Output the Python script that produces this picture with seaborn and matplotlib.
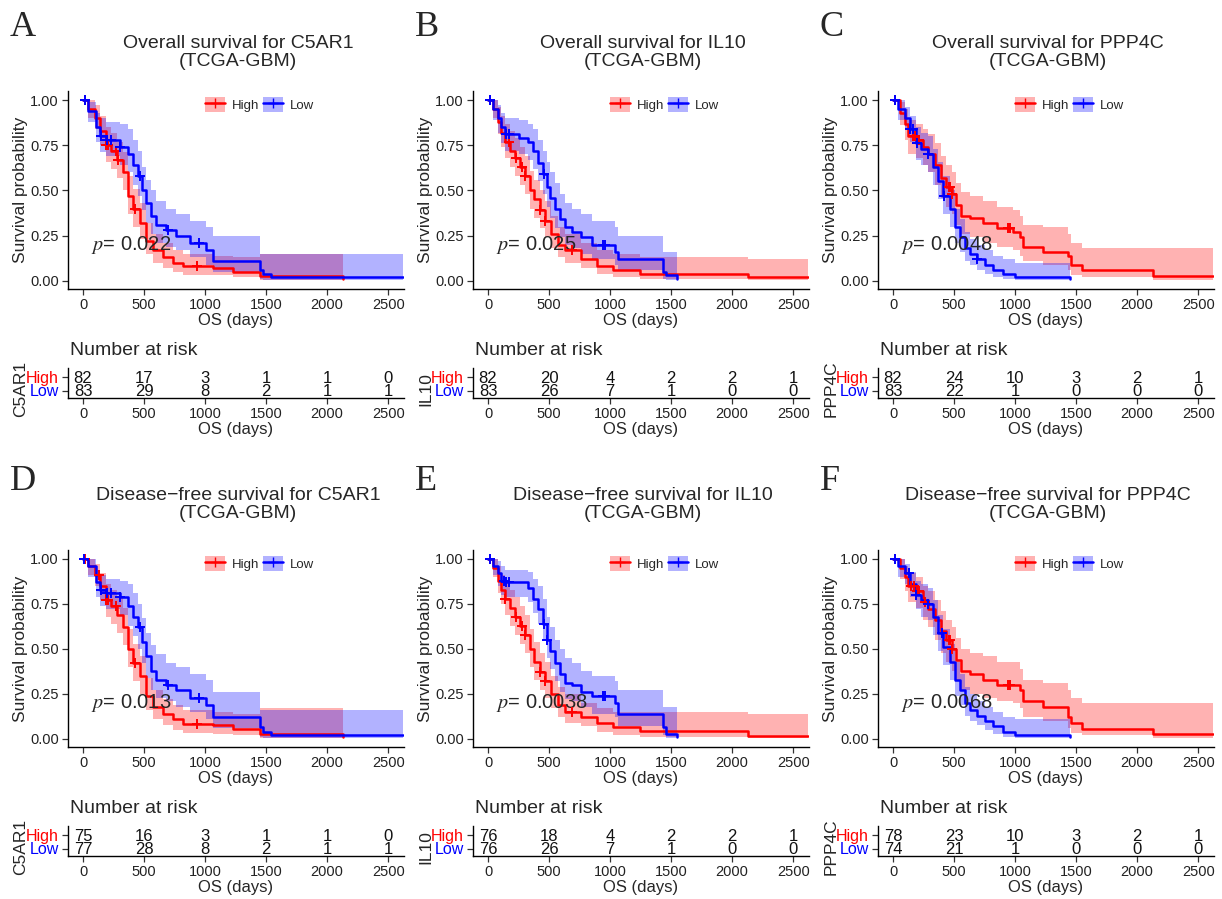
import numpy as np
import matplotlib
matplotlib.use("Agg")
import matplotlib.pyplot as plt
import seaborn as sns
from matplotlib.patches import Patch
from matplotlib.lines import Line2D

# ---------------- data ----------------
genes = ["C5AR1", "IL10", "PPP4C", "C5AR1", "IL10", "PPP4C"]
letters = ["A", "B", "C", "D", "E", "F"]
kinds = ["Overall", "Overall", "Overall", "Disease\u2212free", "Disease\u2212free", "Disease\u2212free"]
pvals = ["0.022", "0.025", "0.0048", "0.013", "0.0038", "0.0068"]
risk_times = [0, 500, 1000, 1500, 2000, 2500]
x_ticks = [0, 500, 1000, 1500, 2000, 2500]
y_ticks = [0.00, 0.25, 0.50, 0.75, 1.00]

# Panel A - C5AR1 OS
A_high_t = [0, 40, 95, 140, 190, 230, 275, 330, 370, 410, 465, 520, 575, 655, 740, 820, 1065, 1230, 1450, 2130]
A_high_s = [1.0, 0.95, 0.90, 0.83, 0.75, 0.72, 0.67, 0.60, 0.47, 0.40, 0.32, 0.22, 0.17, 0.13, 0.10, 0.08, 0.07, 0.05, 0.025, 0.01]
A_high_hi = [1.0, 1.0, 0.97, 0.91, 0.85, 0.82, 0.77, 0.71, 0.58, 0.51, 0.43, 0.32, 0.26, 0.21, 0.17, 0.15, 0.14, 0.13, 0.15, 0.15]
A_high_lo = [1.0, 0.90, 0.84, 0.75, 0.66, 0.62, 0.57, 0.50, 0.37, 0.30, 0.23, 0.15, 0.10, 0.07, 0.05, 0.03, 0.03, 0.02, 0.005, 0.0]
A_high_cens = [15, 190, 205, 270, 285, 430, 930]
A_low_t = [0, 40, 110, 137, 190, 300, 370, 410, 450, 480, 520, 560, 600, 680, 765, 875, 1010, 1065, 1450, 1475, 1540, 2624]
A_low_s = [1.0, 0.94, 0.85, 0.80, 0.78, 0.74, 0.70, 0.64, 0.58, 0.50, 0.43, 0.36, 0.31, 0.28, 0.25, 0.21, 0.17, 0.11, 0.06, 0.04, 0.02, 0.02]
A_low_hi = [1.0, 0.99, 0.93, 0.90, 0.88, 0.87, 0.84, 0.78, 0.72, 0.63, 0.56, 0.50, 0.44, 0.40, 0.37, 0.33, 0.30, 0.25, 0.15, 0.15, 0.15, 0.15]
A_low_lo = [1.0, 0.88, 0.77, 0.71, 0.69, 0.64, 0.60, 0.53, 0.47, 0.39, 0.32, 0.26, 0.21, 0.19, 0.17, 0.13, 0.09, 0.05, 0.01, 0.005, 0.003, 0.003]
A_low_cens = [15, 150, 200, 230, 300, 470, 700, 950]
A_risk_high = [82, 17, 3, 1, 1, 0]
A_risk_low = [83, 29, 8, 2, 1, 1]

# Panel B - IL10 OS
B_high_t = [0, 40, 80, 110, 137, 180, 220, 260, 300, 340, 380, 425, 465, 520, 575, 630, 765, 890, 1025, 1245, 2130, 2624]
B_high_s = [1.0, 0.95, 0.88, 0.82, 0.77, 0.72, 0.68, 0.63, 0.58, 0.50, 0.45, 0.39, 0.33, 0.26, 0.20, 0.17, 0.12, 0.08, 0.06, 0.04, 0.02, 0.02]
B_high_hi = [1.0, 1.0, 0.96, 0.91, 0.87, 0.83, 0.79, 0.74, 0.69, 0.61, 0.56, 0.50, 0.44, 0.36, 0.30, 0.26, 0.21, 0.17, 0.15, 0.13, 0.12, 0.12]
B_high_lo = [1.0, 0.90, 0.81, 0.74, 0.68, 0.63, 0.58, 0.53, 0.48, 0.40, 0.35, 0.29, 0.24, 0.18, 0.13, 0.10, 0.07, 0.04, 0.02, 0.01, 0.005, 0.005]
B_high_cens = [15, 170, 230, 280, 300, 430, 470, 690]
B_low_t = [0, 40, 80, 110, 137, 250, 330, 370, 410, 450, 480, 505, 545, 590, 630, 685, 765, 850, 1040, 1065, 1435, 1460, 1545]
B_low_s = [1.0, 0.95, 0.90, 0.85, 0.81, 0.79, 0.77, 0.72, 0.65, 0.59, 0.52, 0.46, 0.40, 0.34, 0.30, 0.27, 0.24, 0.20, 0.16, 0.12, 0.05, 0.03, 0.01]
B_low_hi = [1.0, 1.0, 0.97, 0.93, 0.90, 0.89, 0.87, 0.84, 0.78, 0.72, 0.66, 0.60, 0.54, 0.48, 0.43, 0.40, 0.37, 0.33, 0.30, 0.25, 0.16, 0.16, 0.16]
B_low_lo = [1.0, 0.89, 0.82, 0.76, 0.72, 0.70, 0.67, 0.62, 0.55, 0.48, 0.41, 0.35, 0.29, 0.24, 0.20, 0.18, 0.15, 0.12, 0.09, 0.06, 0.01, 0.003, 0.0]
B_low_cens = [20, 150, 170, 460, 940, 960]
B_risk_high = [82, 20, 4, 2, 2, 1]
B_risk_low = [83, 26, 7, 1, 0, 0]

# Panel C - PPP4C OS
C_high_t = [0, 55, 95, 125, 190, 245, 285, 340, 395, 437, 480, 520, 560, 630, 740, 850, 985, 1040, 1065, 1230, 1435, 1460, 1545, 2130, 2624]
C_high_s = [1.0, 0.93, 0.87, 0.80, 0.78, 0.74, 0.70, 0.64, 0.57, 0.52, 0.48, 0.42, 0.36, 0.345, 0.32, 0.29, 0.27, 0.245, 0.19, 0.16, 0.135, 0.09, 0.06, 0.028, 0.028]
C_high_hi = [1.0, 0.99, 0.95, 0.89, 0.87, 0.84, 0.81, 0.76, 0.69, 0.64, 0.60, 0.54, 0.49, 0.47, 0.44, 0.41, 0.39, 0.36, 0.31, 0.30, 0.26, 0.21, 0.18, 0.18, 0.18]
C_high_lo = [1.0, 0.86, 0.78, 0.70, 0.68, 0.64, 0.60, 0.53, 0.46, 0.41, 0.37, 0.31, 0.26, 0.24, 0.21, 0.19, 0.17, 0.14, 0.11, 0.09, 0.06, 0.035, 0.02, 0.005, 0.005]
C_high_cens = [15, 160, 180, 200, 210, 460, 470, 480, 940, 960]
C_low_t = [0, 40, 95, 137, 190, 230, 285, 330, 370, 410, 465, 505, 545, 590, 630, 685, 750, 820, 900, 1000, 1450]
C_low_s = [1.0, 0.95, 0.90, 0.84, 0.76, 0.73, 0.70, 0.63, 0.55, 0.47, 0.40, 0.30, 0.24, 0.18, 0.15, 0.12, 0.09, 0.06, 0.04, 0.02, 0.01]
C_low_hi = [1.0, 1.0, 0.96, 0.91, 0.85, 0.82, 0.80, 0.73, 0.66, 0.58, 0.50, 0.40, 0.34, 0.27, 0.23, 0.20, 0.17, 0.14, 0.12, 0.10, 0.10]
C_low_lo = [1.0, 0.89, 0.84, 0.77, 0.67, 0.64, 0.60, 0.53, 0.45, 0.37, 0.30, 0.21, 0.16, 0.11, 0.09, 0.06, 0.04, 0.02, 0.01, 0.003, 0.0]
C_low_cens = [20, 140, 160, 200, 290, 420, 690]
C_risk_high = [82, 24, 10, 3, 2, 1]
C_risk_low = [83, 22, 1, 0, 0, 0]

# Panel D - C5AR1 DFS
D_high_t = [0, 40, 95, 140, 190, 230, 275, 330, 370, 410, 465, 520, 575, 655, 740, 820, 1065, 1230, 1450, 2130]
D_high_s = [1.0, 0.96, 0.91, 0.85, 0.77, 0.74, 0.69, 0.62, 0.50, 0.42, 0.35, 0.24, 0.18, 0.14, 0.11, 0.085, 0.075, 0.055, 0.025, 0.01]
D_high_hi = [1.0, 1.0, 0.97, 0.92, 0.86, 0.83, 0.79, 0.73, 0.61, 0.53, 0.46, 0.34, 0.27, 0.22, 0.19, 0.16, 0.15, 0.14, 0.17, 0.17]
D_high_lo = [1.0, 0.91, 0.85, 0.77, 0.68, 0.64, 0.59, 0.52, 0.40, 0.32, 0.25, 0.16, 0.11, 0.08, 0.05, 0.035, 0.03, 0.02, 0.005, 0.0]
D_high_cens = [15, 130, 190, 205, 270, 430, 930]
D_low_t = [0, 40, 110, 137, 190, 300, 370, 410, 450, 480, 520, 560, 600, 680, 765, 875, 1010, 1065, 1450, 1475, 1540, 2624]
D_low_s = [1.0, 0.96, 0.87, 0.83, 0.81, 0.79, 0.74, 0.68, 0.62, 0.54, 0.46, 0.38, 0.33, 0.30, 0.27, 0.23, 0.19, 0.12, 0.065, 0.04, 0.02, 0.02]
D_low_hi = [1.0, 1.0, 0.94, 0.91, 0.89, 0.88, 0.86, 0.81, 0.75, 0.67, 0.59, 0.52, 0.47, 0.42, 0.40, 0.36, 0.33, 0.26, 0.16, 0.16, 0.16, 0.16]
D_low_lo = [1.0, 0.90, 0.79, 0.74, 0.72, 0.69, 0.63, 0.57, 0.50, 0.42, 0.34, 0.27, 0.23, 0.21, 0.18, 0.15, 0.11, 0.06, 0.01, 0.005, 0.003, 0.003]
D_low_cens = [10, 150, 200, 230, 300, 470, 700, 950]
D_risk_high = [75, 16, 3, 1, 1, 0]
D_risk_low = [77, 28, 8, 2, 1, 1]

# Panel E - IL10 DFS
E_high_t = [0, 40, 80, 110, 137, 180, 220, 260, 300, 340, 380, 425, 465, 520, 575, 630, 765, 890, 1025, 1245, 2130, 2624]
E_high_s = [1.0, 0.95, 0.88, 0.83, 0.78, 0.73, 0.68, 0.63, 0.58, 0.50, 0.43, 0.37, 0.32, 0.25, 0.19, 0.15, 0.12, 0.09, 0.065, 0.042, 0.018, 0.018]
E_high_hi = [1.0, 1.0, 0.96, 0.91, 0.87, 0.83, 0.79, 0.74, 0.69, 0.61, 0.54, 0.48, 0.43, 0.35, 0.29, 0.25, 0.20, 0.17, 0.15, 0.15, 0.14, 0.14]
E_high_lo = [1.0, 0.90, 0.81, 0.75, 0.69, 0.63, 0.58, 0.53, 0.48, 0.40, 0.33, 0.27, 0.23, 0.17, 0.12, 0.09, 0.07, 0.04, 0.02, 0.01, 0.005, 0.005]
E_high_cens = [15, 140, 230, 280, 300, 430, 470, 690]
E_low_t = [0, 40, 80, 110, 137, 330, 370, 410, 450, 480, 505, 545, 590, 630, 685, 765, 850, 1040, 1065, 1435, 1460, 1545]
E_low_s = [1.0, 0.96, 0.92, 0.88, 0.87, 0.84, 0.78, 0.72, 0.64, 0.55, 0.49, 0.42, 0.36, 0.31, 0.30, 0.26, 0.24, 0.20, 0.14, 0.065, 0.03, 0.01]
E_low_hi = [1.0, 1.0, 0.99, 0.96, 0.94, 0.93, 0.89, 0.85, 0.78, 0.68, 0.62, 0.55, 0.50, 0.45, 0.42, 0.38, 0.35, 0.32, 0.27, 0.18, 0.18, 0.18]
E_low_lo = [1.0, 0.91, 0.85, 0.80, 0.79, 0.76, 0.70, 0.64, 0.55, 0.45, 0.39, 0.32, 0.26, 0.22, 0.21, 0.18, 0.14, 0.12, 0.07, 0.02, 0.005, 0.0]
E_low_cens = [15, 130, 150, 170, 460, 480, 940, 960]
E_risk_high = [76, 18, 4, 2, 2, 1]
E_risk_low = [76, 26, 7, 1, 0, 0]

# Panel F - PPP4C DFS
F_high_t = [0, 55, 95, 125, 190, 245, 285, 340, 395, 437, 480, 520, 560, 630, 740, 850, 985, 1040, 1065, 1230, 1435, 1460, 1545, 2130, 2624]
F_high_s = [1.0, 0.95, 0.90, 0.85, 0.82, 0.76, 0.72, 0.66, 0.60, 0.55, 0.50, 0.44, 0.38, 0.36, 0.33, 0.30, 0.30, 0.27, 0.21, 0.175, 0.12, 0.09, 0.055, 0.028, 0.028]
F_high_hi = [1.0, 1.0, 0.96, 0.92, 0.90, 0.85, 0.82, 0.77, 0.71, 0.66, 0.62, 0.56, 0.50, 0.48, 0.46, 0.43, 0.43, 0.39, 0.33, 0.31, 0.27, 0.23, 0.20, 0.20, 0.20]
F_high_lo = [1.0, 0.89, 0.82, 0.76, 0.73, 0.66, 0.62, 0.55, 0.48, 0.43, 0.38, 0.33, 0.27, 0.25, 0.23, 0.21, 0.20, 0.17, 0.12, 0.10, 0.06, 0.035, 0.02, 0.005, 0.005]
F_high_cens = [15, 150, 170, 200, 210, 260, 460, 470, 480, 940, 960]
F_low_t = [0, 40, 95, 137, 190, 230, 285, 330, 370, 410, 465, 505, 545, 590, 630, 685, 750, 820, 900, 1000, 1450]
F_low_s = [1.0, 0.96, 0.92, 0.86, 0.80, 0.77, 0.75, 0.68, 0.59, 0.51, 0.43, 0.33, 0.27, 0.20, 0.16, 0.13, 0.10, 0.07, 0.04, 0.02, 0.01]
F_low_hi = [1.0, 1.0, 0.97, 0.93, 0.88, 0.86, 0.84, 0.77, 0.69, 0.61, 0.53, 0.43, 0.36, 0.29, 0.25, 0.21, 0.18, 0.15, 0.12, 0.11, 0.11]
F_low_lo = [1.0, 0.90, 0.86, 0.79, 0.72, 0.68, 0.66, 0.58, 0.49, 0.41, 0.33, 0.24, 0.19, 0.13, 0.10, 0.08, 0.05, 0.03, 0.01, 0.003, 0.0]
F_low_cens = [15, 130, 190, 290, 400]
F_risk_high = [78, 23, 10, 3, 2, 1]
F_risk_low = [74, 21, 1, 0, 0, 0]

panels = [
    (A_high_t, A_high_s, A_high_lo, A_high_hi, A_high_cens, A_low_t, A_low_s, A_low_lo, A_low_hi, A_low_cens, A_risk_high, A_risk_low),
    (B_high_t, B_high_s, B_high_lo, B_high_hi, B_high_cens, B_low_t, B_low_s, B_low_lo, B_low_hi, B_low_cens, B_risk_high, B_risk_low),
    (C_high_t, C_high_s, C_high_lo, C_high_hi, C_high_cens, C_low_t, C_low_s, C_low_lo, C_low_hi, C_low_cens, C_risk_high, C_risk_low),
    (D_high_t, D_high_s, D_high_lo, D_high_hi, D_high_cens, D_low_t, D_low_s, D_low_lo, D_low_hi, D_low_cens, D_risk_high, D_risk_low),
    (E_high_t, E_high_s, E_high_lo, E_high_hi, E_high_cens, E_low_t, E_low_s, E_low_lo, E_low_hi, E_low_cens, E_risk_high, E_risk_low),
    (F_high_t, F_high_s, F_high_lo, F_high_hi, F_high_cens, F_low_t, F_low_s, F_low_lo, F_low_hi, F_low_cens, F_risk_high, F_risk_low),
]

# ---------------- style ----------------
sns.set_theme(style="ticks")
plt.rcParams["font.family"] = ["Liberation Sans", "DejaVu Sans"]
plt.rcParams["mathtext.fontset"] = "stix"
RED = "#FF0000"
BLUE = "#0000FF"
W, H = 1222, 899

fig = plt.figure(figsize=(W / 100, H / 100), dpi=100)
fig.patch.set_facecolor("white")


def rect(left, top, width, height):
    return [left / W, 1 - (top + height) / H, width / W, height / H]


def style_axes(ax):
    for sp in ["top", "right"]:
        ax.spines[sp].set_visible(False)
    for sp in ["left", "bottom"]:
        ax.spines[sp].set_color("black")
        ax.spines[sp].set_linewidth(1.0)
    ax.tick_params(axis="both", length=4, width=0.9, color="#333333", labelsize=10.5,
                   labelcolor="#222222", pad=2.5)


def draw_curve(ax, t, s, lo, hi, cens, color):
    ax.fill_between(t, lo, hi, step="post", color=color, alpha=0.3, lw=0)
    sns.lineplot(x=t, y=s, drawstyle="steps-post", color=color, lw=1.8,
                 estimator=None, sort=False, ax=ax)
    ta = np.asarray(t)
    idx = np.searchsorted(ta, cens, side="right") - 1
    ys = np.asarray(s)[idx]
    sns.scatterplot(x=cens, y=ys, marker="+", s=60, color=color, linewidth=1.4, ax=ax, zorder=5)


XL = (-123, 2630)
row_tops = [(91, 368), (550, 826)]

for i in range(6):
    r, c = divmod(i, 3)
    (ht, hs, hlo, hhi, hc, lt, ls, llo, lhi, lc, rh, rl) = panels[i]
    left = 68 + 405 * c
    main_top, tab_top = row_tops[r]
    main_h = 198 if r == 0 else 197

    ax = fig.add_axes(rect(left, main_top, 336, main_h))
    draw_curve(ax, ht, hs, hlo, hhi, hc, RED)
    draw_curve(ax, lt, ls, llo, lhi, lc, BLUE)
    ax.set_xlim(*XL)
    ax.set_ylim(-0.045, 1.05)
    ax.set_xticks(x_ticks)
    ax.set_yticks(y_ticks)
    ax.set_yticklabels([f"{v:.2f}" for v in y_ticks])
    style_axes(ax)
    ax.set_xlabel("OS (days)", fontsize=12, labelpad=1)
    ax.set_ylabel("Survival probability", fontsize=12.5)
    ax.yaxis.set_label_coords(-0.118, 0.5)
    ax.text(65, 0.2, r"$p$= " + pvals[i], fontsize=14.5, ha="left", va="center")

    handles = [
        (Patch(facecolor=RED, alpha=0.3, lw=0), Line2D([], [], color=RED, lw=1.8, marker="+", ms=7)),
        (Patch(facecolor=BLUE, alpha=0.3, lw=0), Line2D([], [], color=BLUE, lw=1.8, marker="+", ms=7)),
    ]
    ax.legend(handles, ["High", "Low"], loc="center", bbox_to_anchor=(0.57, 0.93), ncol=2,
              frameon=False, fontsize=9.5, handlelength=1.5, handleheight=1.4,
              handletextpad=0.5, columnspacing=0.3, borderaxespad=0)

    # titles and letter
    cx = left + 170
    ty = 43 if r == 0 else 495
    fig.text(cx / W, 1 - ty / H, f"{kinds[i]} survival for {genes[i]}", ha="center", va="center", fontsize=14)
    fig.text(cx / W, 1 - (ty + 19) / H, "(TCGA-GBM)", ha="center", va="center", fontsize=14)
    ly = 27 if r == 0 else 482
    fig.text((10 + 405 * c) / W, 1 - ly / H, letters[i], ha="left", va="center", fontsize=26,
             family=["Liberation Serif", "DejaVu Serif"])

    # risk table
    tx = fig.add_axes(rect(left, tab_top, 336, 30))
    tx.set_xlim(*XL)
    tx.set_ylim(-0.55, 1.65)
    for tt, nh, nl in zip(risk_times, rh, rl):
        tx.text(tt, 1, str(nh), ha="center", va="center_baseline", fontsize=12, color="#111111")
        tx.text(tt, 0, str(nl), ha="center", va="center_baseline", fontsize=12, color="#111111")
    tx.set_xticks(x_ticks)
    tx.set_yticks([1, 0])
    tx.set_yticklabels(["High", "Low"])
    style_axes(tx)
    tx.tick_params(axis="y", labelsize=11.5)
    for lab, col in zip(tx.get_yticklabels(), [RED, BLUE]):
        lab.set_color(col)
    tx.set_xlabel("OS (days)", fontsize=12, labelpad=1)
    tx.set_ylabel(genes[i], fontsize=12.5)
    tx.yaxis.set_label_coords(-0.118, 0.3)
    tx.text(0.005, 1.57, "Number at risk", transform=tx.transAxes, ha="left", va="center", fontsize=14)

fig.savefig("out.png", dpi=100, facecolor="white")
